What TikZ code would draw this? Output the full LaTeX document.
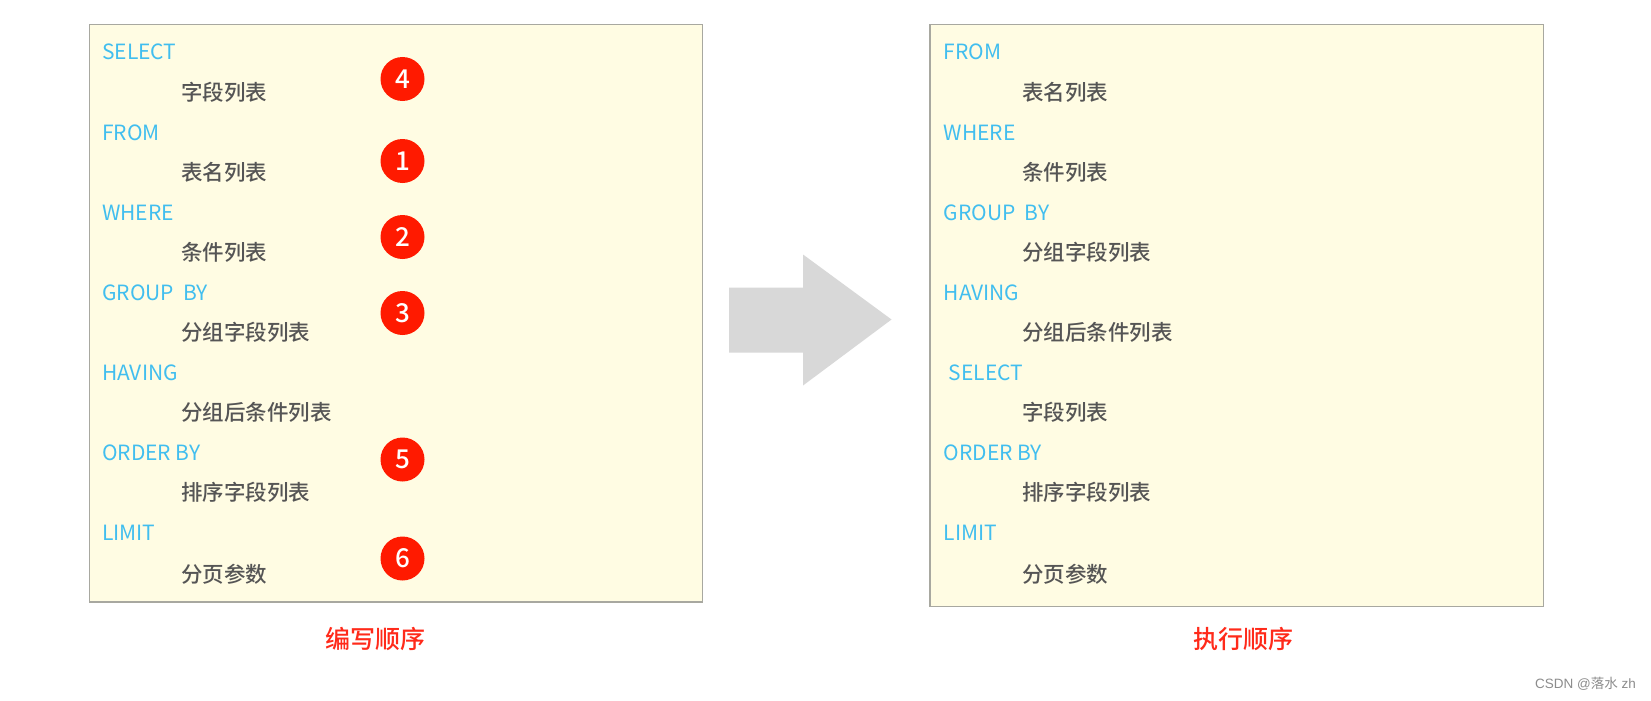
\documentclass[tikz,border=0pt]{standalone}
\usepackage{fontspec}
\setmainfont{Noto Sans CJK SC}
\newfontfamily\cjkmed{Noto Sans CJK SC}[UprightFont={* Medium}]
\newfontfamily\wmfont{Liberation Sans}
\definecolor{boxfill}{HTML}{FFFCE3}
\definecolor{boxline}{HTML}{A8A8A0}
\definecolor{kw}{HTML}{41BEEF}
\definecolor{txt}{HTML}{555555}
\definecolor{badge}{HTML}{FF1A00}
\definecolor{cap}{HTML}{FF2A1A}
\definecolor{arrowgray}{HTML}{D8D8D8}
\begin{document}
\begin{tikzpicture}[x=1pt,y=-1pt,
  panel/.style={draw=boxline,fill=boxfill,line width=1.2pt},
  kwtext/.style={anchor=west,inner sep=0pt,text=kw,font=\fontsize{21}{22}\selectfont},
  cntext/.style={anchor=west,inner sep=0pt,text=txt,font=\cjkmed\fontsize{21.5}{22}\selectfont},
  numbadge/.style={circle,fill=badge,minimum size=44pt,inner sep=0pt,text=white,font=\cjkmed\fontsize{26}{26}\selectfont},
  captext/.style={text=cap,inner sep=0pt,font=\cjkmed\fontsize{25}{26}\selectfont}]
\useasboundingbox (0,0) rectangle (1651,701);
\fill[white] (0,0) rectangle (1651,701);
% panels
\path[panel] (89.5,24.5) rectangle (702.5,602);
\path[panel] (930,24.5) rectangle (1543.5,606.5);
% big arrow
\fill[arrowgray] (729,287.5) -- (803,287.5) -- (803,254.5) -- (891.5,319.5) -- (803,385.5) -- (803,352.5) -- (729,352.5) -- cycle;
% left list
\node[kwtext] (l1) at (102,52) {SELECT};
\node[cntext] (l2) at (181,92.5) {字段列表};
\node[kwtext] (l3) at (102,132.5) {FROM};
\node[cntext] (l4) at (181,172.5) {表名列表};
\node[kwtext] (l5) at (102,212.5) {WHERE};
\node[cntext] (l6) at (181,252.5) {条件列表};
\node[kwtext] (l7) at (102,292.5) {GROUP\ \ BY};
\node[cntext] (l8) at (181,332.5) {分组字段列表};
\node[kwtext] (l9) at (102,372.5) {HAVING};
\node[cntext] (l10) at (181,412.5) {分组后条件列表};
\node[kwtext] (l11) at (102,452.5) {ORDER BY};
\node[cntext] (l12) at (181,492.5) {排序字段列表};
\node[kwtext] (l13) at (102,533) {LIMIT};
\node[cntext] (l14) at (181,574) {分页参数};
% badges
\node[numbadge] (b4) at (402.5,79) {4};
\node[numbadge] (b1) at (402.5,161) {1};
\node[numbadge] (b2) at (402.5,237) {2};
\node[numbadge] (b3) at (402.5,313) {3};
\node[numbadge] (b5) at (402.5,459.5) {5};
\node[numbadge] (b6) at (402.5,558.5) {6};
% right list
\node[kwtext] (r1) at (943.5,52) {FROM};
\node[cntext] (r2) at (1022,92.5) {表名列表};
\node[kwtext] (r3) at (943.5,132.5) {WHERE};
\node[cntext] (r4) at (1022,172.5) {条件列表};
\node[kwtext] (r5) at (943.5,212.5) {GROUP\ \ BY};
\node[cntext] (r6) at (1022,252.5) {分组字段列表};
\node[kwtext] (r7) at (943.5,292.5) {HAVING};
\node[cntext] (r8) at (1022,332.5) {分组后条件列表};
\node[kwtext] (r9) at (948.5,372.5) {SELECT};
\node[cntext] (r10) at (1022,412.5) {字段列表};
\node[kwtext] (r11) at (943.5,452.5) {ORDER BY};
\node[cntext] (r12) at (1022,492.5) {排序字段列表};
\node[kwtext] (r13) at (943.5,533) {LIMIT};
\node[cntext] (r14) at (1022,574) {分页参数};
% captions
\node[captext] (c1) at (375,639) {编写顺序};
\node[captext] (c2) at (1243,639) {执行顺序};
% watermark
\node[anchor=east,inner sep=0pt,text=black!45,font=\fontsize{13.5}{14}\selectfont] (wm) at (1636,684) {{\wmfont CSDN @}落水{\wmfont\ zh}};
\end{tikzpicture}
\end{document}
